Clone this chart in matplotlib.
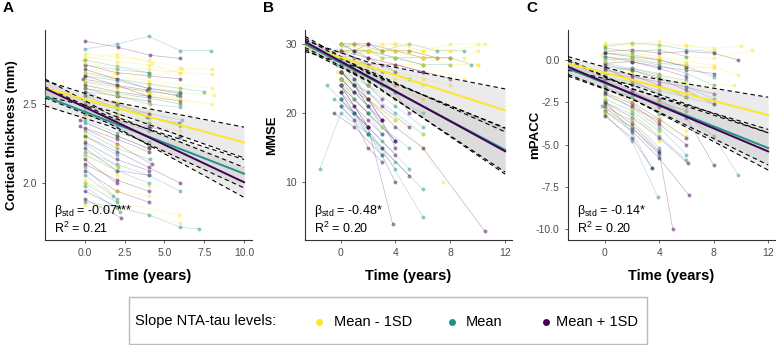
import matplotlib
matplotlib.use("Agg")
import matplotlib.pyplot as plt
from matplotlib.patches import Rectangle
from matplotlib.lines import Line2D

plt.rcParams['font.family'] = ['Liberation Sans', 'DejaVu Sans']
plt.rcParams['mathtext.default'] = 'regular'

# ---------------- data ----------------
group_names = ["Mean - 1SD", "Mean", "Mean + 1SD"]
group_colors = ["#FDE725", "#21918C", "#440154"]

# Panel A: cortical thickness trajectories (group, times, values)
a_groups = [2, 1, 0, 0, 2, 0, 1, 0, 2, 1, 0, 2, 1, 0, 2, 1, 0, 2, 1, 2, 0, 1, 2, 1,
            2, 0, 1, 2, 1, 2, 0, 1, 2, 1, 0, 1, 2, 1, 0, 2, 0, 1, 2, 0,
            0, 1, 2, 0, 1, 2, 0, 1, 2, 0, 1, 2, 1, 0, 2, 1, 0, 2, 1, 0, 2, 1, 0, 2, 1]
a_times = [[0, 2.1, 4.1, 6], [0, 2, 4, 6, 7.9], [0, 2, 4, 6, 8], [-0.1, 2, 4.2],
           [0, 2, 4, 6], [0, 1.9, 4, 6.1], [0, 2, 4, 6, 7.5], [0, 2.1, 4, 5.9],
           [-0.1, 2, 3.9, 6], [0, 2, 4, 5.8], [0, 2, 4, 6, 8.1], [0, 2, 4],
           [0, 2.1, 4.1, 6], [0, 2, 4, 6], [0, 2, 3.9, 5.9], [0, 2, 4, 6.1],
           [-0.2, 2, 4], [0, 2, 4.1], [0, 1.9, 4, 6], [0, 2, 4], [0, 2, 4, 6],
           [0, 2, 4], [-0.3, 2, 4.2], [0, 2, 4.1], [0, 2, 4, 6], [0, 2, 4],
           [0, 2.1], [0, 2, 4], [0, 2, 4, 6], [0, 2], [0, 2, 4], [0, 1.8],
           [0, 2, 4], [0, 2], [0, 2, 5.9], [0, 2.2], [0, 2], [0, 2, 4, 6, 7.2],
           [0, 2, 6], [0, 2.3], [0, 2, 4, 6], [0, 2, 4], [0, 2, 4, 6], [0, 4, 8],
           [0, 2, 4, 6], [0, 2, 4], [0, 2, 4, 6], [0, 2, 4, 6, 8], [0, 2, 4, 6],
           [0, 2, 4], [0, 2, 4], [0, 2, 4], [0, 2, 4, 6], [0, 2, 4], [0, 2, 4],
           [0, 2, 4], [0, 2], [0, 2, 4], [0, 2, 4], [0, 2, 4], [0, 2], [0, 2, 4],
           [0, 2], [0, 2, 4], [-0.3, 2, 4], [0, 2, 4, 6], [0, 2, 4, 6, 8], [0, 2, 4],
           [0, 2, 4, 6]]
a_vals = [[2.90, 2.86, 2.81, 2.79], [2.85, 2.88, 2.93, 2.84, 2.84], [2.82, 2.80, 2.78, 2.73, 2.72],
          [2.78, 2.82, 2.76], [2.75, 2.70, 2.68, 2.66], [2.72, 2.70, 2.68, 2.72],
          [2.70, 2.66, 2.63, 2.60, 2.58], [2.68, 2.66, 2.62, 2.60], [2.66, 2.62, 2.59, 2.55],
          [2.64, 2.61, 2.58, 2.56], [2.62, 2.60, 2.58, 2.57, 2.56], [2.60, 2.55, 2.52],
          [2.58, 2.55, 2.50, 2.48], [2.57, 2.56, 2.54, 2.50], [2.55, 2.48, 2.42, 2.38],
          [2.52, 2.47, 2.44, 2.40], [2.50, 2.49, 2.45], [2.48, 2.40, 2.35],
          [2.46, 2.40, 2.33, 2.29], [2.44, 2.36, 2.24], [2.42, 2.40, 2.38, 2.33],
          [2.40, 2.32, 2.26], [2.36, 2.25, 2.12], [2.33, 2.22, 2.15], [2.30, 2.20, 2.10, 2.00],
          [2.28, 2.24, 2.20], [2.25, 2.10], [2.22, 2.08, 2.05], [2.20, 2.12, 2.05, 1.95],
          [2.15, 2.00], [2.12, 2.05, 1.98], [2.10, 1.92], [2.08, 1.95, 1.88], [2.05, 1.90],
          [2.02, 1.88, 1.80], [1.98, 1.82], [1.95, 1.85], [1.88, 1.85, 1.80, 1.72, 1.71],
          [1.86, 1.84, 1.75], [1.90, 1.78], [2.65, 2.62, 2.57, 2.53], [2.75, 2.72, 2.70],
          [2.62, 2.58, 2.55, 2.52], [2.70, 2.65, 2.60],
          [2.80, 2.77, 2.75, 2.70], [2.78, 2.74, 2.70], [2.72, 2.66, 2.60, 2.57],
          [2.60, 2.58, 2.56, 2.53, 2.50], [2.60, 2.57, 2.54, 2.50], [2.58, 2.50, 2.44],
          [2.54, 2.52, 2.50], [2.48, 2.44, 2.38], [2.50, 2.42, 2.36, 2.30], [2.45, 2.43, 2.40],
          [2.38, 2.30, 2.22], [2.35, 2.28, 2.20], [2.30, 2.18], [2.32, 2.30, 2.25],
          [2.26, 2.15, 2.08], [2.18, 2.08, 2.00], [2.18, 2.10], [2.12, 2.02, 1.95],
          [2.00, 1.88], [2.00, 1.95, 1.92], [2.40, 2.30, 2.22], [2.68, 2.65, 2.60, 2.58],
          [2.76, 2.74, 2.72, 2.70, 2.69], [2.68, 2.62, 2.55], [2.56, 2.50, 2.42, 2.36]]

# Panel B: MMSE trajectories
b_groups = [0, 1, 2, 0, 1, 2, 0, 1, 2, 0, 1, 2, 0, 1, 2, 0, 1, 2, 2, 1, 0, 2, 1, 2,
            1, 0, 2, 1, 2, 1, 0, 2, 1, 2, 0, 2, 1, 0, 2, 0,
            0, 1, 2, 0, 1, 2, 0, 1, 2, 0, 1, 2, 1, 2, 0, 1, 2, 1, 0, 2, 1, 0]
b_times = [[0, 2, 4, 6, 8, 10], [-0.5, 1, 3, 5, 7, 9], [0, 1, 2, 4, 6, 8], [0, 2, 3, 5, 8, 10.5],
           [0, 2, 4, 6, 8], [0, 2, 4, 6], [0, 1, 3, 5, 7], [-0.3, 1, 3, 5], [0, 1, 2, 3, 4],
           [0, 2, 4, 6, 9], [0, 1, 2, 4, 6], [0, 1, 2, 3, 5], [0, 2, 4, 6, 8], [0, 1, 2, 4],
           [0, 1, 2, 3], [-0.3, 1, 3, 6], [0, 1, 2, 3, 5], [0, 1, 2, 4], [0, 1, 3, 4],
           [0, 2, 4, 6], [0, 2, 4, 7], [0, 1, 2, 3], [-0.5, 1, 2], [0, 2, 4], [0, 1, 3, 5],
           [0, 2, 4, 6], [0, 1, 2, 3], [0, 2, 4, 6], [-0.5, 1, 3, 4], [-1.5, 0, 2, 4],
           [0, 2, 4, 6, 7.5], [0, 2, 3.8], [0, 2, 3, 6], [0, 2, 4, 6, 10.5], [0, 1, 2, 3],
           [0, 1, 2, 3, 5, 7], [0, 2, 4, 6, 8, 9.5], [0, 3, 5, 7, 9, 10], [0, 2, 4, 6, 8],
           [0, 2, 4, 6, 8, 10],
           [0, 1, 2, 4, 6, 8], [0, 1, 2, 3, 4, 6], [0, 1, 2, 3, 4], [0, 2, 3, 4, 6],
           [0, 1, 2, 3], [0, 1, 2, 3], [0, 1, 2, 4, 6], [0, 1, 2], [0, 1, 2, 3], [0, 2, 4, 6],
           [0, 1, 2, 3], [0, 1, 2], [0, 2, 4, 6], [0, 1, 3, 5], [0, 2, 4], [0, 2, 4],
           [0, 1, 2, 4], [0, 2, 4], [0, 2, 4, 6, 8, 10], [0, 1, 2, 3, 4, 5], [-1, 0, 1, 2, 3],
           [0, 2, 4, 6]]
b_vals = [[30, 30, 30, 29, 30, 30], [29, 30, 29, 30, 29, 29], [30, 29, 30, 29, 28, 28],
          [29, 29, 30, 30, 29, 30], [28, 29, 28, 27, 27], [28, 27, 27, 26], [30, 30, 29, 29, 28],
          [27, 27, 26, 25], [27, 26, 26, 25, 24], [28, 28, 27, 27, 25], [26, 25, 24, 22, 20],
          [26, 24, 23, 21, 18], [27, 27, 26, 25, 24], [25, 24, 22, 19], [25, 23, 22, 19],
          [26, 26, 24, 22], [24, 23, 21, 18, 15], [24, 22, 20, 16], [25, 23, 19, 15],
          [26, 23, 20, 17], [27, 25, 23, 20], [23, 21, 19, 17], [22, 20, 18], [22, 18, 14],
          [23, 20, 16, 12], [24, 22, 19, 17], [21, 19, 15, 13], [21, 17, 13, 9],
          [20, 18, 14, 10], [12, 20, 17, 12], [25, 22, 19, 15, 10], [24, 18, 4],
          [22, 17, 15, 5], [26, 22, 18, 15, 3], [24, 22, 20, 18], [30, 30, 30, 29, 29, 28],
          [29, 29, 28, 28, 28, 27], [28, 29, 29, 28, 28, 29], [29, 28, 27, 26, 25],
          [30, 29, 28, 28, 27, 27],
          [30, 30, 29, 30, 29, 29], [30, 29, 29, 28, 28, 27], [29, 29, 28, 27, 26],
          [29, 29, 28, 28, 27], [28, 27, 26, 24], [28, 26, 24, 22], [27, 27, 26, 25, 24],
          [26, 24, 21], [27, 25, 22, 19], [26, 25, 24, 22], [25, 22, 20, 17], [24, 21, 18],
          [27, 24, 21, 18], [23, 20, 15, 11], [25, 24, 22], [24, 20, 16], [26, 24, 21, 16],
          [28, 26, 23], [29, 29, 29, 28, 28, 27], [29, 28, 27, 25, 23, 20],
          [24, 22, 20, 17, 14], [30, 29, 29, 28]]

# Panel C: mPACC trajectories
c_groups = [0, 1, 2, 0, 1, 2, 0, 1, 2, 0, 1, 2, 0, 1, 2, 0, 1, 2, 1, 2, 0, 2, 1, 0,
            1, 2, 1, 0, 2, 1, 0, 2, 1, 0, 2,
            0, 1, 2, 0, 1, 2, 0, 1, 2, 0, 1, 2, 0, 1, 2, 1, 0, 2, 1, 0, 2]
c_times = [[0, 2, 4, 6, 8, 10], [0, 2, 4, 6, 8], [0, 2, 4, 6, 8, 9.8], [-0.2, 2, 4, 6, 8, 10.8],
           [0, 2, 4, 6], [0, 2, 4, 6, 8], [0, 2, 4, 6, 8, 9.8], [0, 2, 4, 6], [0, 2, 4, 6, 8],
           [0, 2, 4, 6, 9.5], [-0.1, 2, 4, 6, 8], [0, 2, 4, 6], [0, 2, 4, 6, 8],
           [0, 2, 4, 6, 8, 9.8], [0, 2, 4], [0, 2, 4, 6], [0, 2, 4], [0, 2, 4, 6.1],
           [-0.2, 2, 4], [0, 2, 4, 5], [0, 2, 4, 6], [0, 2, 4, 6.2], [0, 2, 3.9], [0, 2, 4],
           [0, 2, 3.5], [0, 2, 4, 6, 8], [0, 2, 4, 6, 8], [0, 2, 4, 6, 8], [0, 2, 4, 6],
           [0, 2, 4, 6, 8], [0, 2, 4], [0, 2, 4, 6], [0, 2, 4, 6], [0, 2, 4, 6], [0, 2, 4],
           [0, 2, 4, 6, 8], [0, 2, 4, 6], [0, 2, 4, 6], [0, 2, 4, 6], [0, 2, 4], [0, 2, 4, 6],
           [0, 2, 4, 6], [0, 2, 4, 6], [0, 2, 4], [0, 2, 4, 6], [0, 2, 4], [0, 2, 4, 6],
           [0, 2, 4], [0, 2, 4, 6], [0, 2, 4], [0, 2, 4], [0, 2, 4], [0, 2, 3.5],
           [0, 2, 4, 6, 8], [0, 2, 4, 6, 8], [0, 2, 4, 6, 8]]
c_vals = [[1.0, 0.9, 1.1, 0.8, 0.7, 0.8], [0.8, 1.0, 0.9, 0.6, 0.5], [0.5, 0.6, 0.4, 0.5, 0.4, 0.0],
          [0.3, 0.5, 0.6, 0.2, 0.1, 0.6], [0.0, 0.1, -0.2, -0.3], [-0.2, -0.1, -0.4, -0.6, -0.8],
          [-0.3, 0.0, -0.2, -0.5, -0.4, -0.9], [-0.6, -0.5, -0.9, -1.2], [-0.8, -1.0, -1.3, -1.6, -2.0],
          [-0.9, -0.7, -1.1, -1.4, -1.5], [-1.2, -1.4, -1.8, -2.2, -2.6], [-1.4, -1.9, -2.5, -3.0],
          [-1.5, -1.3, -1.6, -2.0, -2.4], [-1.8, -2.1, -2.6, -3.3, -4.5, -6.8], [-2.0, -2.8, -3.6],
          [-2.1, -2.2, -2.6, -3.0], [-2.3, -3.0, -4.2], [-2.5, -3.4, -4.6, -6.1], [-2.7, -3.6, -5.2],
          [-2.8, -4.0, -5.5, -10.0], [-2.9, -3.2, -3.8, -4.5], [-3.0, -4.2, -5.8, -8.0],
          [-3.2, -4.8, -8.1], [-3.3, -3.9, -4.8], [-2.4, -4.3, -6.4], [-1.0, -1.5, -2.3, -3.4, -6.2],
          [-0.4, -0.6, -1.0, -1.6, -2.3], [0.6, 0.4, 0.2, -0.1, -0.3], [0.2, -0.1, -0.5, -1.0],
          [0.4, 0.3, 0.0, -0.4, -1.0], [-1.8, -2.0, -2.5], [-1.6, -2.5, -3.5, -4.6],
          [-2.0, -2.8, -4.0, -5.6], [-2.6, -2.9, -3.5, -4.2], [-0.5, -1.2, -2.0],
          [0.9, 1.0, 0.8, 0.9, 0.6], [0.7, 0.5, 0.6, 0.2], [0.4, 0.2, 0.0, -0.4],
          [0.1, 0.3, 0.1, -0.2], [-0.2, -0.5, -0.8], [-0.6, -0.9, -1.5, -2.2],
          [-0.7, -0.6, -0.9, -1.3], [-1.0, -1.3, -2.0, -2.8], [-1.2, -1.8, -2.8],
          [-1.3, -1.2, -1.7, -2.2], [-1.6, -2.2, -3.2], [-1.9, -2.6, -3.8, -5.0],
          [-2.3, -2.5, -3.0], [-2.5, -3.2, -4.5, -5.9], [-2.6, -3.8, -5.4], [-3.0, -4.0, -5.6],
          [-3.1, -3.5, -4.2], [-3.3, -4.6, -6.4], [0.2, 0.0, -0.3, -0.8, -1.5],
          [-0.1, 0.1, 0.0, -0.3, -0.5], [-0.3, -0.6, -1.1, -1.8, -2.6]]

# Model fits: x knots, fitted values and CI bounds per group (yellow, teal, purple)
a_fit_x = [-2.5, 1.5, 10]
a_fit = [[2.60, 2.49, 2.258], [2.55, 2.393, 2.06], [2.60, 2.41, 2.006]]
a_lo = [[2.55, 2.46, 2.16], [2.49, 2.363, 1.97], [2.54, 2.38, 1.91]]
a_hi = [[2.65, 2.52, 2.355], [2.61, 2.423, 2.15], [2.66, 2.44, 2.10]]

b_fit_x = [-2.6, 2, 12]
b_fit = [[29.7, 26.77, 20.4], [30.0, 25.18, 14.7], [30.3, 25.32, 14.5]]
b_lo = [[28.9, 26.17, 17.3], [29.2, 24.58, 11.5], [29.5, 24.72, 11.2]]
b_hi = [[30.5, 27.37, 23.5], [30.8, 25.78, 17.9], [31.1, 25.92, 17.8]]

c_fit_x = [-2.7, 2, 12]
c_fit = [[-0.2, -1.175, -3.25], [-0.5, -2.0, -5.2], [-0.4, -2.0, -5.4]]
c_lo = [[-0.6, -1.475, -4.3], [-0.95, -2.3, -6.2], [-0.85, -2.3, -6.5]]
c_hi = [[0.2, -0.875, -2.2], [-0.05, -1.7, -4.1], [0.05, -1.7, -4.3]]

# Annotations
a_stats = ["-0.07***", "0.21"]
b_stats = ["-0.48*", "0.20"]
c_stats = ["-0.14*", "0.20"]

panels = [
    dict(label="A", ylabel="Cortical thickness (mm)", groups=a_groups, times=a_times, vals=a_vals,
         fx=a_fit_x, fit=a_fit, lo=a_lo, hi=a_hi, stats=a_stats,
         xlim=(-2.5, 10.5), ylim=(1.64, 2.97), xticks=[0, 2.5, 5, 7.5, 10],
         xtl=["0.0", "2.5", "5.0", "7.5", "10.0"], yticks=[2.0, 2.5], ytl=["2.0", "2.5"],
         left=45),
    dict(label="B", ylabel="MMSE", groups=b_groups, times=b_times, vals=b_vals,
         fx=b_fit_x, fit=b_fit, lo=b_lo, hi=b_hi, stats=b_stats,
         xlim=(-2.6, 12.5), ylim=(1.7, 32.0), xticks=[0, 4, 8, 12],
         xtl=["0", "4", "8", "12"], yticks=[10, 20, 30], ytl=["10", "20", "30"], left=305),
    dict(label="C", ylabel="mPACC", groups=c_groups, times=c_times, vals=c_vals,
         fx=c_fit_x, fit=c_fit, lo=c_lo, hi=c_hi, stats=c_stats,
         xlim=(-2.7, 12.5), ylim=(-10.63, 1.77), xticks=[0, 4, 8, 12],
         xtl=["0", "4", "8", "12"], yticks=[-10, -7.5, -5, -2.5, 0],
         ytl=["-10.0", "-7.5", "-5.0", "-2.5", "0.0"], left=568),
]

W, H = 778, 345
fig = plt.figure(figsize=(W / 100, H / 100), dpi=100)

for p in panels:
    ax = fig.add_axes([p["left"] / W, (H - 240) / H, 207 / W, 210 / H])
    # individual trajectories
    for g, t, v in zip(p["groups"], p["times"], p["vals"]):
        col = group_colors[g]
        ax.plot(t, v, color=col, lw=0.5, alpha=0.3, zorder=1)
        ax.plot(t, v, 'o', color=col, ms=2.8, mew=0, alpha=0.5, zorder=2)
    # ribbons & fits
    for gi in range(3):
        ax.fill_between(p["fx"], p["lo"][gi], p["hi"][gi], color="#b0b0b0", alpha=0.25,
                        lw=0, zorder=3)
        ax.plot(p["fx"], p["lo"][gi], color="black", ls=(0, (4, 3)), lw=0.8, zorder=4)
        ax.plot(p["fx"], p["hi"][gi], color="black", ls=(0, (4, 3)), lw=0.8, zorder=4)
    for gi in range(3):
        ax.plot(p["fx"], p["fit"][gi], color=group_colors[gi], lw=1.4, zorder=5)
    ax.set_xlim(*p["xlim"])
    ax.set_ylim(*p["ylim"])
    ax.set_xticks(p["xticks"])
    ax.set_xticklabels(p["xtl"])
    ax.set_yticks(p["yticks"])
    ax.set_yticklabels(p["ytl"])
    for s in ["top", "right"]:
        ax.spines[s].set_visible(False)
    for s in ["left", "bottom"]:
        ax.spines[s].set_color("#333333")
        ax.spines[s].set_linewidth(0.8)
    ax.tick_params(labelsize=7.5, colors="#4d4d4d", length=2.5, width=0.6)
    ax.set_xlabel("Time (years)", fontsize=10.5, fontweight="bold", labelpad=8)
    ax.set_ylabel(p["ylabel"], fontsize=9.5, fontweight="bold")
    ax.yaxis.set_label_coords(-27 / 207, 0.5)
    ax.text(0.045, 0.14, "β$_{std}$ = " + p["stats"][0], transform=ax.transAxes,
            fontsize=9, va="center", ha="left")
    ax.text(0.045, 0.055, "R$^{2}$ = " + p["stats"][1], transform=ax.transAxes,
            fontsize=9, va="center", ha="left")
    fig.text((p["left"] - 42) / W, 1 - 8 / H, p["label"], fontsize=11, fontweight="bold",
             va="center", ha="left")

# legend box
fig.patches.append(Rectangle((129 / W, 1 - 344 / H), (647 - 129) / W, (344 - 297) / H,
                             transform=fig.transFigure, fill=False, edgecolor="#bbbbbb",
                             lw=1.0))
ly = 1 - 321.5 / H
fig.text(135 / W, ly, "Slope NTA-tau levels:", fontsize=10.5, va="center", ha="left")
dot_x = [319, 451.5, 545.5]
txt_x = [334, 466, 556]
for gi in range(3):
    fig.lines.append(Line2D([dot_x[gi] / W], [ly], marker="o", ms=5, mew=0,
                            color=group_colors[gi], transform=fig.transFigure))
    fig.text(txt_x[gi] / W, ly, group_names[gi], fontsize=10.5, va="center", ha="left")

fig.savefig("out.png", dpi=100)
